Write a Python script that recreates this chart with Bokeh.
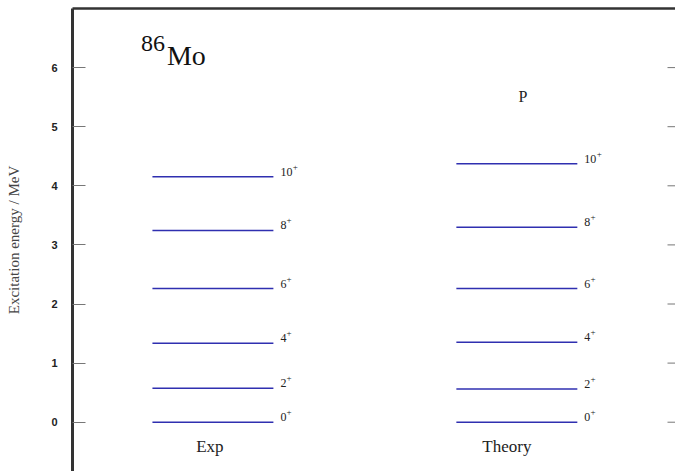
from bokeh.plotting import figure
from bokeh.models import Range1d, LinearAxis, FixedTicker, ColumnDataSource
from bokeh.core.properties import value
from bokeh.embed import file_html
from bokeh.resources import INLINE

# Level energies (MeV) for the yrast band of 86Mo
spins = ["0", "2", "4", "6", "8", "10"]
exp_energy = [0.0, 0.575, 1.337, 2.262, 3.244, 4.152]
theory_energy = [0.0, 0.56, 1.354, 2.262, 3.30, 4.372]
columns = ["Exp", "Theory"]
y_ticks = [0, 1, 2, 3, 4, 5, 6]

SERIF = value("Liberation Serif")
LEVEL_COLOR = "#2f2fb0"
TEXT_COLOR = "#222222"
HALF = 0.199  # half-length of each level bar, in column units
NAME_SHIFT = [-3, -10]  # horizontal nudge (px) of the column captions

X_START, X_END = -0.462, 1.522
p = figure(width=675, height=471, output_backend="svg", toolbar_location=None,
           x_range=Range1d(X_START, X_END), y_range=Range1d(-0.834, 7.0),
           min_border_left=72, min_border_top=8, min_border_bottom=0,
           min_border_right=0, x_axis_location=None)
p.grid.visible = False
p.outline_line_color = None
p.background_fill_color = "white"

# left axis
ax = p.yaxis[0]
ax.ticker = FixedTicker(ticks=y_ticks)
ax.axis_line_width = 3
ax.axis_line_color = "#333333"
ax.major_tick_in = 13
ax.major_tick_out = 0
ax.major_tick_line_color = "#777777"
ax.minor_tick_line_color = None
ax.major_label_standoff = 15
ax.major_label_text_font = "Liberation Sans"
ax.major_label_text_font_style = "bold"
ax.major_label_text_font_size = "11px"
ax.major_label_text_color = "#222222"
ax.axis_label = "Excitation energy / MeV"
ax.axis_label_text_font = "Liberation Serif"
ax.axis_label_text_font_style = "normal"
ax.axis_label_text_font_size = "15px"
ax.axis_label_standoff = 26

# top border
tax = LinearAxis(ticker=FixedTicker(ticks=[]), axis_line_width=2.5,
                 axis_line_color="#333333", major_tick_line_color=None,
                 minor_tick_line_color=None)
p.add_layout(tax, "above")

# short inward ticks along the right edge (half of each dash falls inside the frame)
p.scatter(x=[X_END] * len(y_ticks), y=y_ticks, marker="dash", size=16,
          line_color="#777777", line_width=1)

for i, (name, energies) in enumerate(zip(columns, [exp_energy, theory_energy])):
    src = ColumnDataSource(dict(
        x0=[i - HALF] * len(energies), x1=[i + HALF] * len(energies),
        y=energies, spin=spins))
    p.segment(x0="x0", y0="y", x1="x1", y1="y", source=src,
              line_color=LEVEL_COLOR, line_width=1.5)
    p.text(x="x1", y="y", text="spin", source=src, x_offset=7, y_offset=-1,
           text_font=SERIF, text_font_size="12px", text_baseline="bottom",
           text_align="left", text_color=TEXT_COLOR)
    # superscript "+" after each spin value
    for e, s in zip(energies, spins):
        off = 7 + 6.2 * len(s)
        p.text(x=[i + HALF], y=[e], text=["+"], x_offset=off, y_offset=-7,
               text_font=SERIF, text_font_size="9px", text_baseline="bottom",
               text_align="left", text_color=TEXT_COLOR)
    p.text(x=[i], y=[-0.41], text=[name], x_offset=NAME_SHIFT[i],
           text_font=SERIF, text_font_size="17px",
           text_align="center", text_baseline="alphabetic", text_color=TEXT_COLOR)

# model label above the theory column
p.text(x=[1.02], y=[5.51], text=["P"], text_font=SERIF, text_font_size="16px",
       text_align="center", text_baseline="alphabetic", text_color=TEXT_COLOR)

# nucleus label: mass number raised before the element symbol
p.text(x=[0.0], y=[6.41], text=["86"], text_font=SERIF, text_font_size="24px",
       x_offset=-72, text_align="left", text_baseline="alphabetic", text_color="#111111")
p.text(x=[0.0], y=[6.20], text=["Mo"], text_font=SERIF, text_font_size="28px",
       x_offset=-46, text_align="left", text_baseline="alphabetic", text_color="#111111")

open("out.html", "w").write(file_html(p, INLINE))
